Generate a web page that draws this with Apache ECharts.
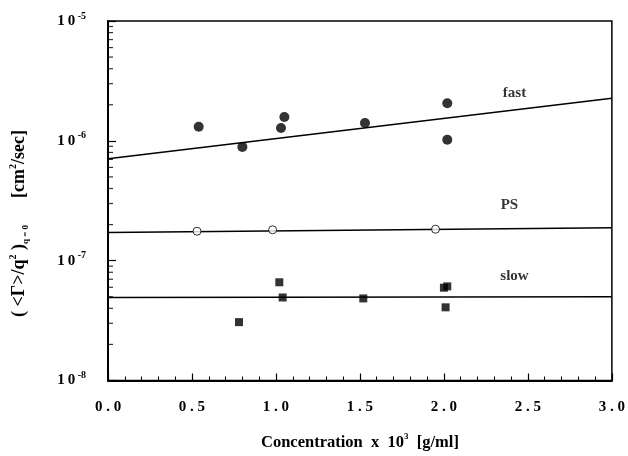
<!DOCTYPE html>
<html>
<head>
<meta charset="utf-8">
<script src="https://cdn.jsdelivr.net/npm/echarts@6/dist/echarts.min.js"></script>
<style>
  html, body { margin: 0; background: #fff; }
  #chart { width: 628px; height: 456px; }
</style>
</head>
<body>
<div id="chart"></div>
<script>
// measured points
var fastX = [0.54, 0.80, 1.03, 1.05, 1.53, 2.02, 2.02];
var fastY = [1.31e-6, 0.89e-6, 1.28e-6, 1.58e-6, 1.41e-6, 2.06e-6, 1.02e-6];
var psX = [0.53, 0.98, 1.95];
var psY = [1.76e-7, 1.81e-7, 1.83e-7];
var slowX = [0.78, 1.02, 1.04, 1.52, 2.00, 2.02, 2.01];
var slowY = [3.07e-8, 6.6e-8, 4.93e-8, 4.84e-8, 5.95e-8, 6.1e-8, 4.08e-8];

// fitted lines
var fitX = [0, 3];
var fastFit = [7.1e-7, 2.27e-6];
var psFit = [1.72e-7, 1.88e-7];
var slowFit = [4.93e-8, 5.0e-8];

// curve labels
var labelNames = ['fast', 'PS', 'slow'];
var labelX = [2.42, 2.39, 2.42];
var labelY = [2.48e-6, 2.88e-7, 7.4e-8];

// log axis minor ticks (2..9 in each decade)
var minorMult = [2, 3, 4, 5, 6, 7, 8, 9];
var decades = [-8, -7, -6];

var font = 'Liberation Serif';

function zip(xs, ys) {
  return xs.map(function (x, i) { return [x, ys[i]]; });
}

var minorTicks = [];
decades.forEach(function (e) {
  minorMult.forEach(function (m) {
    minorTicks.push([0, m * Math.pow(10, e)]);
  });
});

var chart = echarts.init(document.getElementById('chart'));

var option = {
  animation: false,
  backgroundColor: '#fff',
  grid: {
    left: 108, right: 15, top: 21, bottom: 73,
    show: true, borderColor: '#000', borderWidth: 1.5
  },
  xAxis: {
    type: 'value',
    min: 0, max: 3, interval: 0.5,
    axisLine: { show: true, lineStyle: { color: '#000', width: 2 } },
    axisTick: { inside: true, length: 7, lineStyle: { color: '#000', width: 1.2 } },
    minorTick: { show: true, splitNumber: 5, length: 4, lineStyle: { color: '#000', width: 1 } },
    splitLine: { show: false },
    axisLabel: {
      margin: 19,
      color: '#000',
      fontFamily: font, fontWeight: 'bold', fontSize: 15,
      formatter: function (v) { return v.toFixed(1).split('').join(' '); }
    },
    name: '{t|Concentration  x  10}{s|3}{t|  [g/ml]}',
    nameLocation: 'middle',
    nameGap: 52,
    nameTextStyle: {
      rich: {
        t: { fontFamily: font, fontWeight: 'bold', fontSize: 16.5, color: '#000', lineHeight: 20 },
        s: { fontFamily: font, fontWeight: 'bold', fontSize: 9, color: '#000', verticalAlign: 'top', lineHeight: 20 }
      }
    }
  },
  yAxis: {
    type: 'log',
    logBase: 10,
    min: 1e-8, max: 1e-5,
    axisLine: { show: true, lineStyle: { color: '#000', width: 2 } },
    axisTick: { inside: true, length: 8, lineStyle: { color: '#000', width: 1.2 } },
    splitLine: { show: false },
    axisLabel: {
      margin: 22,
      formatter: function (v) {
        var e = Math.round(Math.log(v) / Math.LN10);
        return '{b|1\u20090}{s| ' + e + '}';
      },
      rich: {
        b: { fontFamily: font, fontWeight: 'bold', fontSize: 15, color: '#000', lineHeight: 20 },
        s: { fontFamily: font, fontWeight: 'bold', fontSize: 10, color: '#000', verticalAlign: 'top', lineHeight: 20 }
      }
    }
  },
  graphic: [{
    type: 'text',
    left: 8,
    top: 130,
    x: 0, y: 0,
    rotation: Math.PI / 2,
    style: {
      text: '{t|( <Γ>/q}{s|2}{t| )}{u|q = 0}{t|      [cm}{s|2}{t|/sec]}',
      rich: {
        t: { fontFamily: font, fontWeight: 'bold', fontSize: 18, fill: '#000', lineHeight: 22 },
        s: { fontFamily: font, fontWeight: 'bold', fontSize: 10, fill: '#000', verticalAlign: 'top', lineHeight: 22 },
        u: { fontFamily: font, fontWeight: 'bold', fontSize: 9, fill: '#000', verticalAlign: 'bottom', lineHeight: 22 }
      }
    }
  }],
  series: [
    {
      name: 'minor', type: 'scatter', silent: true, clip: false,
      symbol: 'rect', symbolSize: [5, 1.2], symbolOffset: [2.5, 0],
      itemStyle: { color: '#000' },
      data: minorTicks
    },
    {
      name: 'fast fit', type: 'line', showSymbol: false, silent: true,
      lineStyle: { color: '#000', width: 1.5 },
      data: zip(fitX, fastFit)
    },
    {
      name: 'PS fit', type: 'line', showSymbol: false, silent: true,
      lineStyle: { color: '#000', width: 1.5 },
      data: zip(fitX, psFit)
    },
    {
      name: 'slow fit', type: 'line', showSymbol: false, silent: true,
      lineStyle: { color: '#000', width: 1.5 },
      data: zip(fitX, slowFit)
    },
    {
      name: 'fast', type: 'scatter', symbol: 'circle', symbolSize: 10,
      itemStyle: { color: '#000' },
      data: zip(fastX, fastY)
    },
    {
      name: 'PS', type: 'scatter', symbol: 'circle', symbolSize: 8, z: 5,
      itemStyle: { color: '#fff', borderColor: '#000', borderWidth: 1 },
      data: zip(psX, psY)
    },
    {
      name: 'slow', type: 'scatter', symbol: 'rect', symbolSize: 8,
      itemStyle: { color: '#000' },
      data: zip(slowX, slowY)
    },
    {
      name: 'labels', type: 'scatter', symbolSize: 0, silent: true,
      label: {
        show: true, position: 'inside',
        formatter: function (p) { return p.data[2]; },
        fontFamily: font, fontWeight: 'bold', fontSize: 15, color: '#000'
      },
      data: labelNames.map(function (n, i) { return [labelX[i], labelY[i], n]; })
    }
  ]
};

chart.setOption(option);
</script>
</body>
</html>
